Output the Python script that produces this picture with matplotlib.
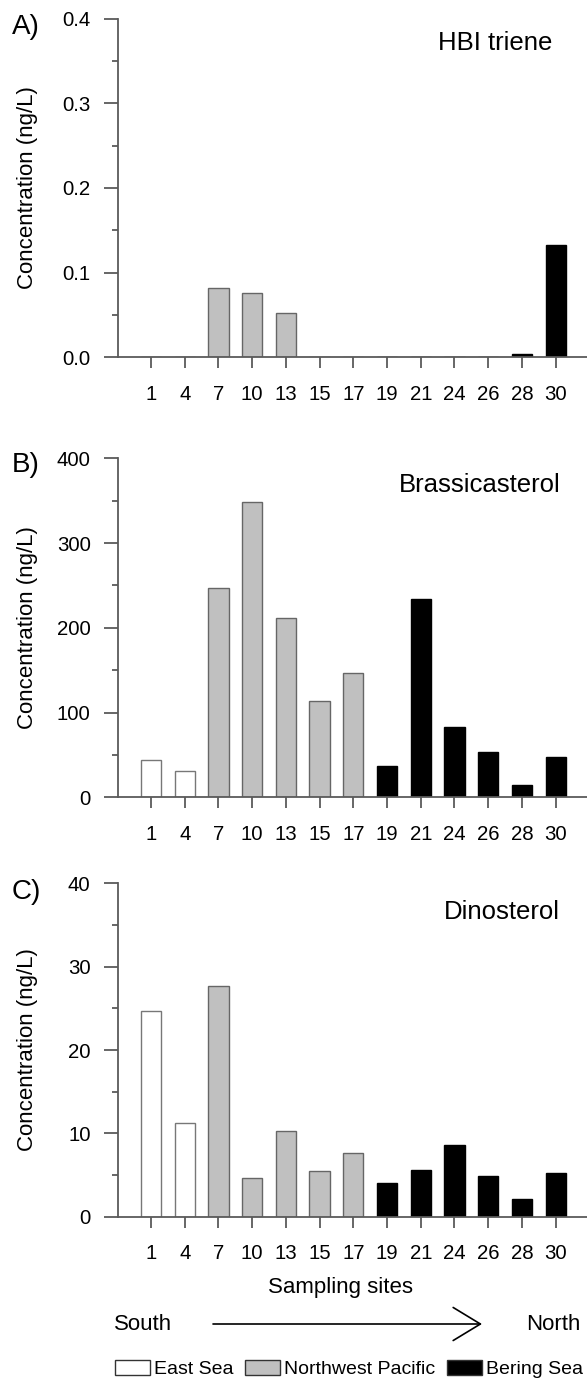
import matplotlib
matplotlib.use("Agg")
import matplotlib.pyplot as plt
from matplotlib.ticker import MultipleLocator, FormatStrFormatter
from matplotlib.patches import Patch

plt.rcParams['font.family'] = ['Liberation Sans', 'DejaVu Sans']

sites = ['1', '4', '7', '10', '13', '15', '17', '19', '21', '24', '26', '28', '30']
regions = ['East Sea', 'East Sea', 'Northwest Pacific', 'Northwest Pacific', 'Northwest Pacific',
           'Northwest Pacific', 'Northwest Pacific', 'Bering Sea', 'Bering Sea', 'Bering Sea',
           'Bering Sea', 'Bering Sea', 'Bering Sea']
hbi_triene = [0, 0, 0.082, 0.076, 0.052, 0, 0, 0, 0, 0, 0, 0.0035, 0.133]
brassicasterol = [44, 31.5, 247, 349, 211, 114, 147, 37.5, 234, 83, 53.5, 14, 47]
dinosterol = [24.7, 11.2, 27.7, 4.7, 10.3, 5.5, 7.6, 4.1, 5.6, 8.6, 4.9, 2.1, 5.2]

region_fill = {'East Sea': 'white', 'Northwest Pacific': '#c0c0c0', 'Bering Sea': 'black'}
region_edge = {'East Sea': '#777777', 'Northwest Pacific': '#666666', 'Bering Sea': 'black'}

W, H = 587, 1392
fig = plt.figure(figsize=(W / 100, H / 100), dpi=100)

axis_col = '#5a5a5a'
left_px = 117.7

panels = [
    dict(vals=hbi_triene, top=18.5, bot=357.3, ymax=0.4, major=0.1, fmt='%.1f',
         name='HBI triene', nx=495.5, ny=43.5, lab='A)', ly=27),
    dict(vals=brassicasterol, top=458.3, bot=797.3, ymax=400, major=100, fmt='%d',
         name='Brassicasterol', nx=480, ny=485, lab='B)', ly=465),
    dict(vals=dinosterol, top=883.3, bot=1216.7, ymax=40, major=10, fmt='%d',
         name='Dinosterol', nx=501.7, ny=912, lab='C)', ly=892),
]

x = list(range(len(sites)))
for p in panels:
    ax = fig.add_axes([left_px / W, 1 - p['bot'] / H, 1 - left_px / W, (p['bot'] - p['top']) / H])
    ax.bar(x, p['vals'], width=0.6,
           color=[region_fill[r] for r in regions],
           edgecolor=[region_edge[r] for r in regions], linewidth=1.0, zorder=2)
    ax.set_xlim(-0.987, 12.93)
    ax.set_ylim(0, p['ymax'])
    ax.set_xticks(x)
    ax.set_xticklabels(sites)
    ax.yaxis.set_major_locator(MultipleLocator(p['major']))
    ax.yaxis.set_minor_locator(MultipleLocator(p['major'] / 2))
    ax.yaxis.set_major_formatter(FormatStrFormatter(p['fmt']))
    for s in ['top', 'right']:
        ax.spines[s].set_visible(False)
    for s in ['left', 'bottom']:
        ax.spines[s].set_color(axis_col)
        ax.spines[s].set_linewidth(1.3)
        ax.spines[s].set_zorder(3)
    ax.tick_params(axis='x', direction='out', length=8.2, width=1.3, color=axis_col,
                   pad=11.5, labelsize=14.7)
    ax.tick_params(axis='y', which='major', direction='out', length=10, width=1.3,
                   color=axis_col, pad=9.5, labelsize=14.7)
    ax.tick_params(axis='y', which='minor', direction='out', length=4.5, width=1.3,
                   color=axis_col)
    ax.text((p['nx'] - left_px) / (W - left_px), (p['bot'] - p['ny']) / (p['bot'] - p['top']),
            p['name'], transform=ax.transAxes, ha='center', va='center', fontsize=18.5)
    fig.text(11.5 / W, 1 - p['ly'] / H, p['lab'], ha='left', va='center', fontsize=20)
    fig.text(27.4 / W, 1 - (p['top'] + p['bot']) / 2 / H, 'Concentration (ng/L)',
             rotation=90, ha='center', va='center', fontsize=16)

fig.text(340 / W, 1 - 1288 / H, 'Sampling sites', ha='center', va='center', fontsize=16)
fig.text(114 / W, 1 - 1325 / H, 'South', ha='left', va='center', fontsize=16)
fig.text(580 / W, 1 - 1325 / H, 'North', ha='right', va='center', fontsize=16)
fig.add_artist(matplotlib.patches.FancyArrowPatch(
    (213 / W, 1 - 1324 / H), (482 / W, 1 - 1324 / H), transform=fig.transFigure,
    arrowstyle='->,head_length=1.4,head_width=0.85', color='black', linewidth=1.2,
    mutation_scale=14, shrinkA=0, shrinkB=0))

handles = [Patch(facecolor=region_fill[r], edgecolor='#333333', linewidth=1.0, label=r)
           for r in ['East Sea', 'Northwest Pacific', 'Bering Sea']]
fig.legend(handles=handles, loc='center', bbox_to_anchor=(349 / W, 1 - 1369 / H), ncol=3,
           frameon=False, fontsize=14, handlelength=1.8, handleheight=0.8,
           handletextpad=0.2, columnspacing=0.6, borderpad=0, borderaxespad=0)

fig.savefig('out.png', dpi=100)
